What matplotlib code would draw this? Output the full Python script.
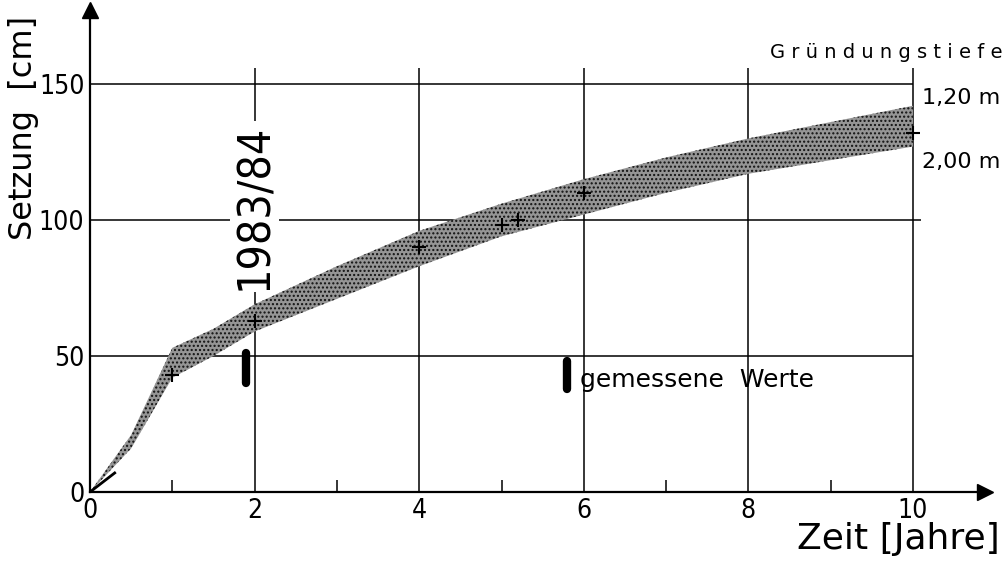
"""Setzung ueber Zeit - Streuband mit gemessenen Werten."""
import matplotlib
matplotlib.use("Agg")
import matplotlib.pyplot as plt

# band of settlement [cm] over time [years]
t = [0, 0.5, 1.0, 1.5, 2.0, 2.5, 3.0, 4.0, 5.0, 6.0, 7.0, 8.0, 9.0, 10.0]
upper = [0, 21, 53, 60, 69, 76, 83, 96, 106, 115, 123, 130, 136, 142]
lower = [0, 16, 42, 50, 59, 65, 71, 83, 94, 102, 110, 117, 122, 127]

# single measured points (crosses inside the band)
meas_t = [1.0, 2.0, 4.0, 5.0, 5.2, 6.0, 10.0]
meas_s = [43, 63, 90, 98, 100, 110, 132]

# measured range bar near 1983/84 and legend bar
bar_t = 1.9
bar_s = (40, 51)
leg_t = 5.8
leg_s = (38, 48)

xticks = [0, 2, 4, 6, 8, 10]
yticks = [0, 50, 100, 150]

NARROW = dict(family="DejaVu Sans", stretch="condensed")
WIDE = dict(family="DejaVu Sans")
W, H, DPI = 1006, 563, 100

fig = plt.figure(figsize=(W / DPI, H / DPI), dpi=DPI)
# pixel layout: x=0 at 90px, 82.3px per year; y=0 at 492px, 2.72px per cm
x0, y0 = 90, 492
xmax, ymax = (985 - x0) / 82.3, (y0 - 10) / 2.72
ax = fig.add_axes([x0 / W, (H - y0) / H, (985 - x0) / W, (y0 - 10) / H])
ax.set_xlim(0, xmax)
ax.set_ylim(0, ymax)

for s in ["top", "right"]:
    ax.spines[s].set_visible(False)
for s in ["left", "bottom"]:
    ax.spines[s].set_linewidth(1.6)
ax.plot(1, 0, ">k", ms=11, transform=ax.get_yaxis_transform(), clip_on=False)
ax.plot(0, 1, "^k", ms=11, transform=ax.get_xaxis_transform(), clip_on=False)

# grid
ax.hlines([50, 100, 150], 0, [10.0, 10.1, 10.0], colors="black", lw=1.1)
ax.vlines([2, 4, 6, 8, 10], 0, 156, colors="black", lw=1.1)

# stippled band
ax.fill_between(t, lower, upper, facecolor="#959595", edgecolor="#111111",
                hatch="....", linewidth=0, zorder=3)
ax.plot([0, 0.3], [0, 7], color="black", lw=2, zorder=4)
ax.plot(meas_t, meas_s, "+", color="black", ms=10, mew=1.5, zorder=4)

# measured bars
ax.plot([bar_t, bar_t], bar_s, color="black", lw=6, solid_capstyle="round", zorder=5)
ax.plot([leg_t, leg_t], leg_s, color="black", lw=6, solid_capstyle="round", zorder=5)
ax.text(leg_t + 0.15, 41, "gemessene  Werte", fontsize=18, va="center",
        ha="left", **WIDE)

# ticks
ax.set_xticks(xticks)
ax.set_xticklabels([str(v) for v in xticks], fontsize=19, **NARROW)
ax.set_xticks([1, 3, 5, 7, 9], minor=True)
ax.set_yticks(yticks)
ax.set_yticklabels([str(v) for v in yticks], fontsize=19, **NARROW)
ax.tick_params(which="major", length=0, pad=4)
ax.tick_params(which="minor", direction="in", length=9, width=1.1)

# labels
ax.text(2.0, 105, "1983/84", rotation=90, fontsize=32, ha="center",
        va="center", zorder=6,
        bbox=dict(facecolor="white", edgecolor="none", pad=2), **NARROW)
fig.text(24 / W, 1 - 128 / H, "Setzung  [cm]", rotation=90, fontsize=23,
         ha="center", va="center", **WIDE)
fig.text(1000 / W, 1 - 522 / H, "Zeit [Jahre]", fontsize=26, ha="right",
         va="top", **WIDE)
fig.text(1002 / W, 1 - 52 / H, "G r ü n d u n g s t i e f e", fontsize=14,
         ha="right", va="center", **WIDE)
fig.text(922 / W, 1 - 98 / H, "1,20 m", fontsize=16, ha="left",
         va="center", **WIDE)
fig.text(922 / W, 1 - 162 / H, "2,00 m", fontsize=16, ha="left",
         va="center", **WIDE)

fig.savefig("out.png", dpi=DPI)
